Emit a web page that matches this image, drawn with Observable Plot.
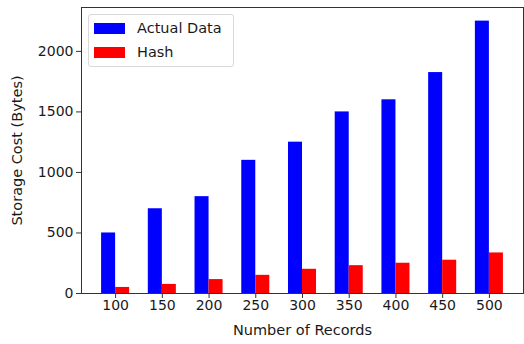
<!DOCTYPE html>
<html>
<head>
<meta charset="utf-8">
<script src="https://cdn.jsdelivr.net/npm/d3@7"></script>
<script src="https://cdn.jsdelivr.net/npm/@observablehq/plot@0.6"></script>
<style>
  html, body { margin: 0; padding: 0; background: #fff; }
  #wrap { position: relative; width: 524px; height: 344px; font-family: "DejaVu Sans", sans-serif; }
  #legend { position: absolute; left: 88px; top: 14px; width: 146px; height: 53px; border: 1px solid #d9d9d9; border-radius: 3px; background: rgba(255,255,255,0.8); box-sizing: border-box; }
  .entry { position: absolute; left: 5px; height: 17px; font-size: 14.5px; color: #1a1a1a; line-height: 17px; }
  .swatch { position: absolute; left: 0; top: 2px; width: 31px; height: 11px; }
  .lbl { position: absolute; left: 43px; top: -1px; white-space: nowrap; }
</style>
</head>
<body>
<div id="wrap"></div>
<script>
const records = [100, 150, 200, 250, 300, 350, 400, 450, 500];
const actualData = [500, 700, 800, 1100, 1250, 1500, 1600, 1825, 2250];
const hashData = [50, 75, 115, 150, 200, 230, 250, 275, 335];
const yTicks = [0, 500, 1000, 1500, 2000];
const seriesNames = ["Actual Data", "Hash"];
const seriesColors = ["#0000ff", "#ff0000"];
const xLabel = "Number of Records";
const yLabel = "Storage Cost (Bytes)";
const halfWidth = 15; // bar width in record units (0.3 of the 50 spacing)

const rows = records.map((r, i) => ({records: r, actual: actualData[i], hash: hashData[i]}));

const chart = Plot.plot({
  width: 524,
  height: 344,
  marginLeft: 81,
  marginRight: 1,
  marginTop: 7,
  marginBottom: 51,
  style: {fontFamily: "DejaVu Sans, sans-serif", fontSize: "14px", color: "#1a1a1a", background: "#fff"},
  x: {domain: [63.5, 536.5]},
  y: {domain: [0, 2362.5]},
  marks: [
    Plot.rectY(rows, {x1: d => d.records - halfWidth, x2: d => d.records, y1: 0, y2: "actual", fill: seriesColors[0]}),
    Plot.rectY(rows, {x1: d => d.records, x2: d => d.records + halfWidth, y1: 0, y2: "hash", fill: seriesColors[1]}),
    Plot.axisX(records, {tickSize: 5, tickPadding: 2, fontSize: 14, label: null, stroke: "#333"}),
    Plot.axisY(yTicks, {tickSize: 5, tickPadding: 3, fontSize: 14, tickFormat: d => String(d), label: null, stroke: "#333"}),
    Plot.text([xLabel], {frameAnchor: "bottom", dy: 37, fontSize: 14.5, lineAnchor: "middle", fill: "#1a1a1a"}),
    Plot.text([yLabel], {frameAnchor: "left", dx: -64, rotate: -90, fontSize: 14.5, textAnchor: "middle", lineAnchor: "middle", fill: "#1a1a1a"}),
    Plot.frame({stroke: "#333"})
  ]
});
const wrap = document.getElementById("wrap");
wrap.appendChild(chart);

const legend = document.createElement("div");
legend.id = "legend";
seriesNames.forEach((name, i) => {
  const e = document.createElement("div");
  e.className = "entry";
  e.style.top = (6 + i * 24.4) + "px";
  e.innerHTML = `<span class="swatch" style="background:${seriesColors[i]}"></span><span class="lbl">${name}</span>`;
  legend.appendChild(e);
});
wrap.appendChild(legend);
</script>
</body>
</html>
